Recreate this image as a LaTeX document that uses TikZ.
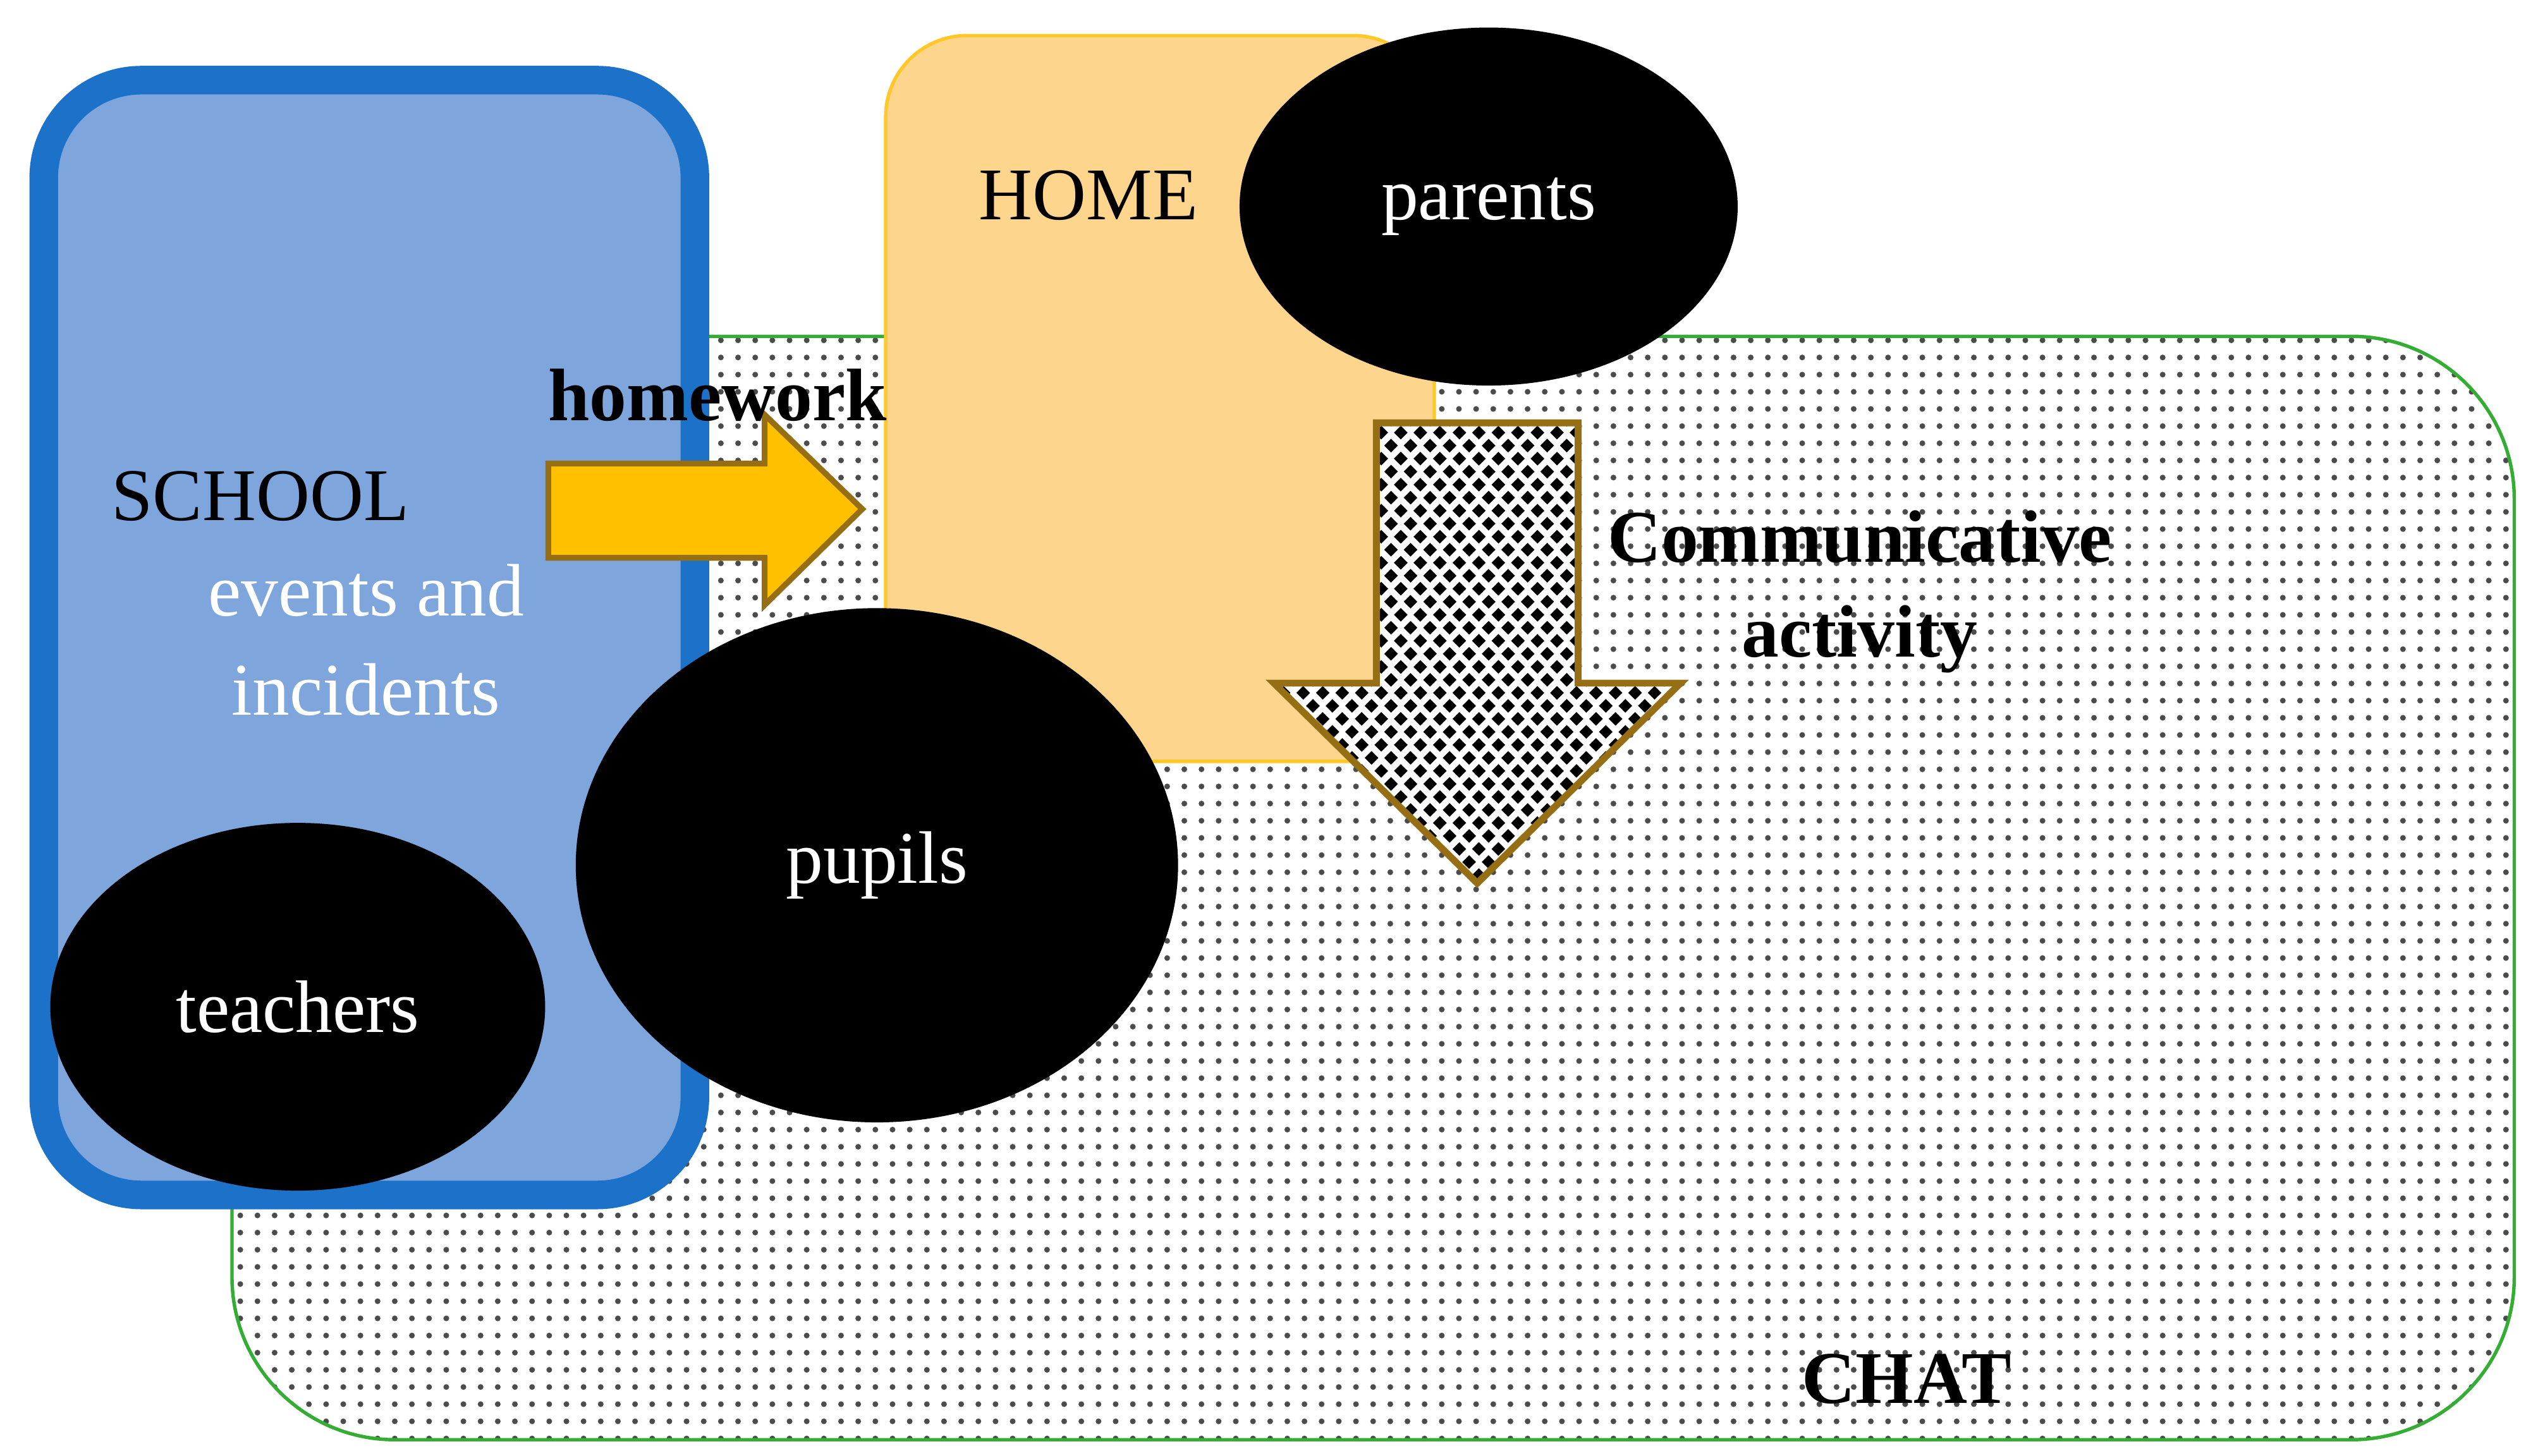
\documentclass[tikz,border=0pt]{standalone}
\usepackage{fontspec}
\setmainfont{Liberation Serif}
\usetikzlibrary{patterns,shapes.geometric}
\begin{document}
\begin{tikzpicture}[x=0.01cm,y=-0.01cm,
  blob/.style={ellipse,fill=black,draw=none,text=white,font=\fontsize{13}{15}\selectfont},
  lbl/.style={font=\fontsize{13}{15}\selectfont},
  blbl/.style={font=\fontsize{13}{15}\selectfont\bfseries}]
\useasboundingbox (0,0) rectangle (1560,895);
% CHAT
\node[draw=green!60!black!80,line width=0.6pt,rounded corners=1cm,minimum width=14.02cm,minimum height=6.78cm,
  pattern=dots,pattern color=black!70] (chat) at (844,546) {};
% SCHOOL
\node[draw={rgb,255:red,27;green,114;blue,200},fill={rgb,255:red,126;green,166;blue,220},line width=5pt,
  rounded corners=0.6cm,minimum width=4.0cm,minimum height=6.85cm] (school) at (227,392) {};
% HOME
\node[draw={rgb,255:red,255;green,200;blue,40},fill={rgb,255:red,253;green,213;blue,140},line width=0.6pt,
  rounded corners=0.5cm,minimum width=3.37cm,minimum height=4.46cm] (home) at (713,245) {};
\node[blob,minimum width=3.06cm,minimum height=2.2cm] (parents) at (915,127) {parents};
% homework arrow
\draw[fill={rgb,255:red,255;green,192;blue,0},draw={rgb,255:red,150;green,110;blue,20},line width=1pt]
  (337,285) -- (470,285) -- (470,255) -- (530,313) -- (470,372) -- (470,343) -- (337,343) -- cycle;
\node[blob,minimum width=3.7cm,minimum height=3.16cm] (pupils) at (539,532) {pupils};
% down arrow
\draw[fill=white] (846,260) -- (970,260) -- (970,420) -- (1033,420) -- (908,543) -- (783,420) -- (846,420) -- cycle;
\begin{scope}
\clip (846,260) -- (970,260) -- (970,420) -- (1033,420) -- (908,543) -- (783,420) -- (846,420) -- cycle;
\foreach \i in {0,...,22}{\foreach \j in {0,...,36}{
  \pgfmathsetmacro{\cx}{783+\i*12+mod(\j,2)*6}
  \pgfmathsetmacro{\cy}{258+\j*8}
  \fill[black] (\cx,\cy-4.2) -- (\cx+4.2,\cy) -- (\cx,\cy+4.2) -- (\cx-4.2,\cy) -- cycle;
}}
\end{scope}
\draw[draw={rgb,255:red,150;green,110;blue,20},line width=1.2pt] (846,260) -- (970,260) -- (970,420) -- (1033,420) -- (908,543) -- (783,420) -- (846,420) -- cycle;
\node[blob,minimum width=3.04cm,minimum height=2.26cm] (teachers) at (183,619) {teachers};
% texts
\node[lbl] (schooltxt) at (160,305) {SCHOOL};
\node[lbl,text=white] (ev) at (225,363) {events and};
\node[lbl,text=white] (inc) at (225,424) {incidents};
\node[lbl] (hometxt) at (669,120) {HOME};
\node[blbl] (hw) at (441,243) {homework};
\node[blbl] (comm) at (1143,330) {Communicative};
\node[blbl] (act) at (1143,393) {activity};
\node[blbl] (chattxt) at (1172,848) {CHAT};
\end{tikzpicture}
\end{document}
